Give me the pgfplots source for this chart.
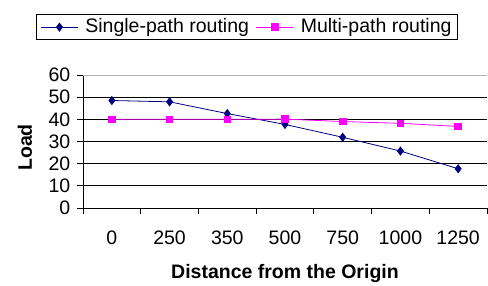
\documentclass[border=0pt]{standalone}
\usepackage{pgfplots}
\pgfplotsset{compat=1.18}
\usepackage{fontspec}
\setmainfont{Liberation Sans}
\definecolor{navyc}{RGB}{0,0,128}
\definecolor{magc}{RGB}{255,0,255}
\begin{document}
\fontsize{19.5bp}{23bp}\selectfont
\begin{tikzpicture}
\useasboundingbox (-83bp,-78bp) rectangle (405bp,208bp);
\begin{axis}[
  at={(0,0)}, anchor=south west,
  scale only axis, width=404bp, height=133bp,
  xmin=-0.5, xmax=6.5, ymin=0, ymax=60,
  xtick={-0.5,0.5,1.5,2.5,3.5,4.5,5.5,6.5},
  x tick label as interval,
  xticklabels={0,250,350,500,750,1000,1250},
  ytick={0,10,20,30,40,50,60},
  axis x line*=bottom, axis y line*=left,
  axis line style={black, line width=0.8pt},
  tick style={black, line width=0.8pt},
  tick align=outside, major tick length=6bp,
  ymajorgrids, major grid style={black, line width=0.8pt},
  /pgf/number format/assume math mode=true,
  ticklabel style={font=\fontsize{19.5bp}{23bp}\selectfont},
  xticklabel style={yshift=-10bp},
  xlabel={\bfseries Distance from the Origin},
  ylabel={\bfseries Load},
  every axis x label/.style={at={(axis description cs:0.5,0)}, anchor=center, yshift=-65bp, font=\fontsize{19.5bp}{23bp}\selectfont},
  every axis y label/.style={at={(axis description cs:-0.1436,0.455)}, anchor=center, rotate=90, font=\fontsize{19.5bp}{23bp}\selectfont},
  legend style={at={(axis description cs:0.406,1)}, anchor=south, yshift=35bp,
    draw=black, line width=0.6pt, font=\fontsize{19.5bp}{23bp}\selectfont,
    inner xsep=4bp, inner ysep=2bp,
    /tikz/every odd column/.append style={column sep=5bp},
    /tikz/every even column/.append style={column sep=5bp}},
  legend columns=2,
  legend cell align=left,
  legend image code/.code={\draw[mark repeat=2,mark phase=2] plot coordinates {(0bp,0bp)(18.5bp,0bp)(37bp,0bp)};},
]
\addplot[navyc, line width=0.8pt, mark=diamond*, mark size=4bp, mark options={solid, fill=navyc}]
  coordinates {(0,48.5) (1,47.9) (2,42.6) (3,37.7) (4,31.9) (5,25.7) (6,17.7)};
\addlegendentry{Single-path routing}
\addplot[magc, line width=0.8pt, mark=square*, mark size=3.3bp, mark options={solid, fill=magc}]
  coordinates {(0,40) (1,40) (2,40) (3,40.1) (4,39) (5,38.2) (6,36.8)};
\addlegendentry{Multi-path routing}
\draw[gray!60, line width=0.8pt] (rel axis cs:0,1) -- (rel axis cs:1,1) -- (rel axis cs:1,0);
\end{axis}
\end{tikzpicture}
\end{document}
